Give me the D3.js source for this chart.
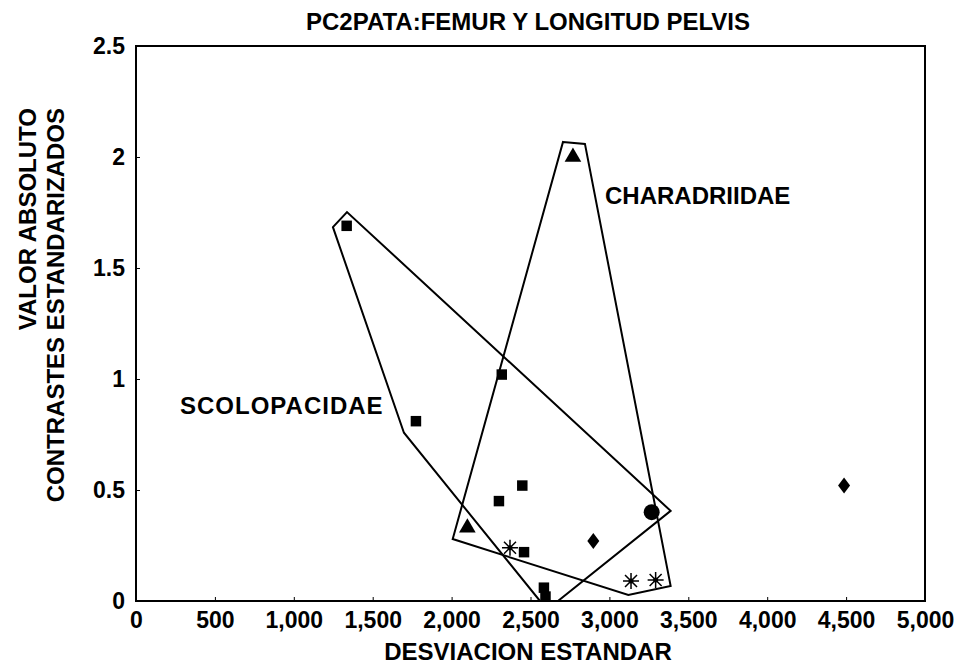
<!DOCTYPE html>
<html><head><meta charset="utf-8">
<script src="https://cdn.jsdelivr.net/npm/d3@7"></script>
<style>body{margin:0;background:#fff}svg{display:block}text{font-family:"Liberation Sans",Arial,sans-serif;font-weight:bold;fill:#000}</style>
</head><body><div id="chart"></div>
<script>
const title = "PC2PATA:FEMUR Y LONGITUD PELVIS";
const xTitle = "DESVIACION ESTANDAR";
const yTitle1 = "VALOR ABSOLUTO";
const yTitle2 = "CONTRASTES ESTANDARIZADOS";
const xTicks = [0,500,1000,1500,2000,2500,3000,3500,4000,4500,5000];
const yTicks = [0,0.5,1,1.5,2,2.5];
const yTickLabels = ["0","0.5","1","1.5","2","2.5"];

const squareX = [1335,1774,2318,2300,2448,2459,2585,2595];
const squareY = [1.69,0.81,1.02,0.45,0.52,0.22,0.06,0.02];
const triangleX = [2769,2100];
const triangleY = [2.0,0.33];
const asteriskX = [2370,3137,3293];
const asteriskY = [0.24,0.09,0.095];
const diamondX = [2898,4487];
const diamondY = [0.27,0.52];
const circleX = [3268];
const circleY = [0.40];

const scoloHullX = [1248,1337,3388,2674,2560,1698];
const scoloHullY = [1.684,1.752,0.406,0,0,0.758];
const charaHullX = [2706,2845,3388,3120,2007];
const charaHullY = [2.068,2.059,0.068,0.027,0.279];

const W=967,H=669;
const svg=d3.select("#chart").append("svg").attr("width",W).attr("height",H);
svg.append("rect").attr("width",W).attr("height",H).attr("fill","#fff");
const x=d3.scaleLinear().domain([0,5000]).range([136,925]);
const y=d3.scaleLinear().domain([0,2.5]).range([601,46]);

// frame
svg.append("rect").attr("x",x(0)).attr("y",y(2.5)).attr("width",x(5000)-x(0)).attr("height",y(0)-y(2.5))
  .attr("fill","none").attr("stroke","#000").attr("stroke-width",2);

// axes
const xAxis=d3.axisBottom(x).tickValues(xTicks).tickSize(-4).tickPadding(11).tickFormat(d3.format(","));
const gx=svg.append("g").attr("transform",`translate(0,${y(0)})`).call(xAxis);
gx.select(".domain").remove();
gx.selectAll("text").attr("font-size",23).attr("dy","0.71em");
gx.selectAll("line").attr("stroke-width",1);
const yAxis=d3.axisLeft(y).tickValues(yTicks).tickSize(-4).tickPadding(11).tickFormat((d,i)=>yTickLabels[i]);
const gy=svg.append("g").attr("transform",`translate(${x(0)},0)`).call(yAxis);
gy.select(".domain").remove();
gy.selectAll("text").attr("font-size",23);
gy.selectAll("line").attr("stroke-width",1);
gx.selectAll("text").attr("font-family","Liberation Sans, Arial, sans-serif").attr("font-weight","bold");
gy.selectAll("text").attr("font-family","Liberation Sans, Arial, sans-serif").attr("font-weight","bold");

// titles
svg.append("text").attr("x",528).attr("y",30).attr("text-anchor","middle").attr("font-size",24).text(title);
svg.append("text").attr("x",528).attr("y",660).attr("text-anchor","middle").attr("font-size",24).text(xTitle);
svg.append("text").attr("transform","translate(36,108) rotate(-90)").attr("text-anchor","end").attr("font-size",24).text(yTitle1);
svg.append("text").attr("transform","translate(64,108) rotate(-90)").attr("text-anchor","end").attr("font-size",24).text(yTitle2);

// hulls
const line=d3.line().x(d=>x(d[0])).y(d=>y(d[1])).curve(d3.curveLinearClosed);
svg.append("path").attr("d",line(scoloHullX.map((v,i)=>[v,scoloHullY[i]]))).attr("fill","none").attr("stroke","#000").attr("stroke-width",2);
svg.append("path").attr("d",line(charaHullX.map((v,i)=>[v,charaHullY[i]]))).attr("fill","none").attr("stroke","#000").attr("stroke-width",2);

// group labels
svg.append("text").attr("x",605).attr("y",204).attr("font-size",24).text("CHARADRIIDAE");
svg.append("text").attr("x",180).attr("y",414).attr("font-size",24).attr("letter-spacing",1).text("SCOLOPACIDAE");

// markers
const sym=(type,size)=>d3.symbol().type(type).size(size)();
svg.append("g").selectAll("path").data(squareX.map((v,i)=>[v,squareY[i]])).join("path")
  .attr("transform",d=>`translate(${x(d[0])},${y(d[1])})`).attr("d",sym(d3.symbolSquare,110));
svg.append("g").selectAll("path").data(triangleX.map((v,i)=>[v,triangleY[i]])).join("path")
  .attr("transform",d=>`translate(${x(d[0])},${y(d[1])})`).attr("d",sym(d3.symbolTriangle,120));
svg.append("g").selectAll("path").data(diamondX.map((v,i)=>[v,diamondY[i]])).join("path")
  .attr("transform",d=>`translate(${x(d[0])},${y(d[1])})`).attr("d","M0,-8L6,0L0,8L-6,0Z");
svg.append("g").selectAll("circle").data(circleX.map((v,i)=>[v,circleY[i]])).join("circle")
  .attr("cx",d=>x(d[0])).attr("cy",d=>y(d[1])).attr("r",8);
const ast=svg.append("g").selectAll("g").data(asteriskX.map((v,i)=>[v,asteriskY[i]])).join("g")
  .attr("transform",d=>`translate(${x(d[0])},${y(d[1])})`);
ast.append("path").attr("d","M0,-8V8M-8,0H8M-6,-6L6,6M-6,6L6,-6").attr("stroke","#000").attr("stroke-width",1.5);
ast.append("circle").attr("r",2.5);
</script></body></html>
